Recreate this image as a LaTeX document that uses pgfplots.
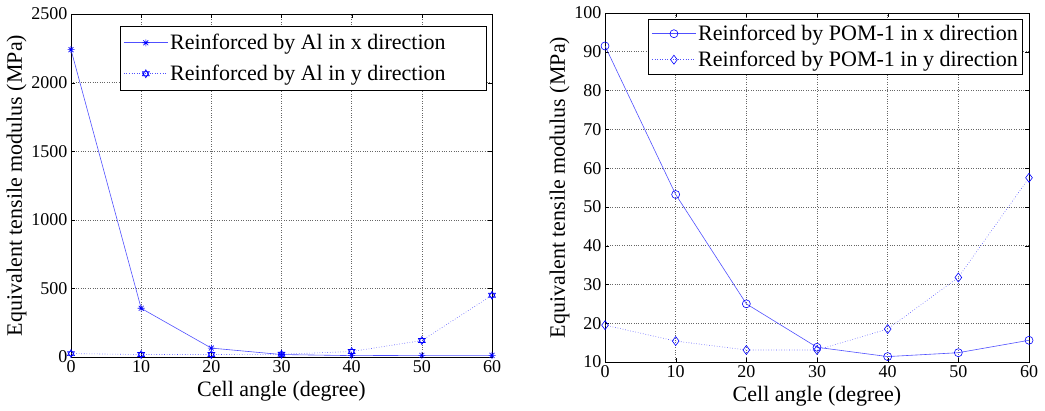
\documentclass[border=0pt]{standalone}
\usepackage{fontspec}
\setmainfont{Liberation Serif}
\usepackage{pgfplots}
\pgfplotsset{compat=1.18}
\definecolor{mblue}{RGB}{80,80,255}
\pgfdeclareplotmark{hexagram}{%
  \pgfpathmoveto{\pgfqpointpolar{90}{\pgfplotmarksize}}%
  \pgfpathlineto{\pgfqpointpolar{210}{\pgfplotmarksize}}%
  \pgfpathlineto{\pgfqpointpolar{330}{\pgfplotmarksize}}%
  \pgfpathclose
  \pgfpathmoveto{\pgfqpointpolar{270}{\pgfplotmarksize}}%
  \pgfpathlineto{\pgfqpointpolar{30}{\pgfplotmarksize}}%
  \pgfpathlineto{\pgfqpointpolar{150}{\pgfplotmarksize}}%
  \pgfpathclose
  \pgfusepathqstroke}
\pgfdeclareplotmark{mstar}{%
  \pgfpathmoveto{\pgfqpoint{-\pgfplotmarksize}{0pt}}\pgfpathlineto{\pgfqpoint{\pgfplotmarksize}{0pt}}%
  \pgfpathmoveto{\pgfqpoint{0pt}{-\pgfplotmarksize}}\pgfpathlineto{\pgfqpoint{0pt}{\pgfplotmarksize}}%
  \pgfpathmoveto{\pgfqpoint{-0.7\pgfplotmarksize}{-0.7\pgfplotmarksize}}\pgfpathlineto{\pgfqpoint{0.7\pgfplotmarksize}{0.7\pgfplotmarksize}}%
  \pgfpathmoveto{\pgfqpoint{-0.7\pgfplotmarksize}{0.7\pgfplotmarksize}}\pgfpathlineto{\pgfqpoint{0.7\pgfplotmarksize}{-0.7\pgfplotmarksize}}%
  \pgfusepathqstroke}
\pgfplotsset{
  mystyle/.style={
    scale only axis,
    anchor=south west,
    xmin=0, xmax=60,
    xtick={0,10,...,60},
    tick align=inside,
    major tick length=4bp,
    grid=major,
    major grid style={dotted, gray!80!black, line width=0.6pt},
    axis line style={black, line width=0.6pt},
    tick style={black},
    /pgf/number format/assume math mode=true,
    tick label style={font=\rmfamily\fontsize{18bp}{20bp}\selectfont},
    label style={font=\rmfamily\fontsize{22bp}{24bp}\selectfont},
    xlabel={Cell angle (degree)},
    ylabel={Equivalent tensile modulus (MPa)},
    xlabel style={yshift=-2bp},
    ylabel style={yshift=-2bp},
    legend style={font=\rmfamily\fontsize{22bp}{24bp}\selectfont, draw=black, line width=0.6pt,
      inner xsep=3bp, inner ysep=4bp, row sep=5bp, cells={anchor=west}},
    legend cell align=left,
    legend image code/.code={%
      \draw[mark repeat=2, mark phase=2, #1] plot coordinates {(0bp,0bp) (22bp,0bp) (44bp,0bp)};},
  }
}
\begin{document}
\begin{tikzpicture}[x=1bp,y=1bp]
\path[use as bounding box] (0,0) rectangle (1045,410);
\begin{axis}[mystyle,
  at={(71bp,53bp)}, width=421bp, height=343bp,
  ymin=0, ymax=2500, ytick={0,500,...,2500},
  scaled y ticks=false,
  yticklabel style={/pgf/number format/.cd, 1000 sep={}},
  legend style={at={(0.988,0.965)}, anchor=north east, row sep=10bp, inner ysep=6bp},
]
\addplot[mblue, line width=0.6pt, mark=mstar, mark size=3.5bp, mark options={solid, blue}]
  coordinates {(0,2240) (10,355) (20,65) (30,18) (40,10) (50,12) (60,12)};
\addlegendentry{Reinforced by Al in x direction\hspace*{36bp}}
\addplot[mblue, line width=0.6pt, dotted, mark=hexagram, mark size=4bp, mark options={solid, blue}]
  coordinates {(0,25) (10,18) (20,18) (30,20) (40,40) (50,120) (60,450)};
\addlegendentry{Reinforced by Al in y direction\hspace*{36bp}}
\end{axis}
\begin{axis}[mystyle,
  at={(605bp,48bp)}, width=424bp, height=349bp,
  ymin=10, ymax=100, ytick={10,20,...,100},
  legend style={at={(0.986,0.983)}, anchor=north east},
]
\addplot[mblue, line width=0.6pt, mark=o, mark size=4bp, mark options={solid, blue}]
  coordinates {(0,91.5) (10,53.2) (20,25) (30,13.8) (40,11.4) (50,12.4) (60,15.6)};
\addlegendentry{Reinforced by POM-1 in x direction}
\addplot[mblue, line width=0.6pt, dotted, mark=diamond, mark size=4.5bp, mark options={solid, blue}]
  coordinates {(0,19.5) (10,15.4) (20,13.1) (30,13.1) (40,18.5) (50,31.8) (60,57.5)};
\addlegendentry{Reinforced by POM-1 in y direction}
\end{axis}
\end{tikzpicture}
\end{document}
